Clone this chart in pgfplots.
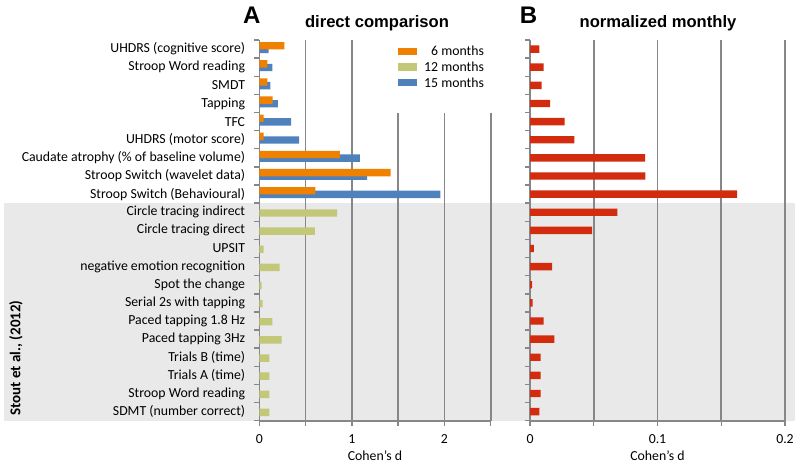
\documentclass[border=0pt]{standalone}
\usepackage{fontspec}
\setmainfont{Carlito}
\newfontfamily\arialfont{Liberation Sans}
\usepackage{pgfplots}
\usepackage{pgfplotstable}
\pgfplotsset{compat=1.18}
\definecolor{cOrange}{RGB}{240,128,0}
\definecolor{cBlue}{RGB}{79,129,189}
\definecolor{cGreen}{RGB}{195,200,120}
\definecolor{cRed}{RGB}{210,43,14}
\definecolor{cBg}{RGB}{233,233,233}
\definecolor{cAxis}{RGB}{135,135,135}
\newcommand{\lf}{\fontsize{13.8}{15}\selectfont}

% panel A: 6 months
\pgfplotstableread{
y v
0 0.27
1 0.086
2 0.086
3 0.144
4 0.047
5 0.047
6 0.87
7 1.42
8 0.605
}\orangeA
% panel A: 15 months
\pgfplotstableread{
y v
0 0.10
1 0.14
2 0.12
3 0.20
4 0.345
5 0.43
6 1.087
7 1.166
8 1.955
}\blueA
% panel A: 12 months
\pgfplotstableread{
y v
9 0.84
10 0.60
11 0.047
12 0.22
13 0.025
14 0.036
15 0.14
16 0.24
17 0.108
18 0.108
19 0.108
20 0.108
}\greenA
% panel B: normalized monthly
\pgfplotstableread{
y v
0 0.0073
1 0.0107
2 0.0092
3 0.0157
4 0.0272
5 0.0348
6 0.0903
7 0.0905
8 0.1625
9 0.0686
10 0.0487
11 0.0031
12 0.0173
13 0.0016
14 0.0021
15 0.0107
16 0.0191
17 0.0084
18 0.0084
19 0.0084
20 0.0073
}\redB

\pgfplotsset{
  swatch/.style={legend image code/.code={\fill[##1] (0pt,-3.7pt) rectangle (19pt,3.7pt);}},
  panel/.style={
    scale only axis, height=380.7pt, anchor=south west,
    y dir=reverse, ymin=-0.5, ymax=20.5,
    axis x line*=bottom, axis y line*=left,
    axis line style={cAxis, line width=1.6pt},
    tick style={cAxis, line width=1.4pt},
    major tick length=5pt, tick align=outside,
    ytick={-0.5,0.5,...,20.5}, yticklabels={},
    xmajorgrids, grid style={cAxis, line width=1.6pt},
    xbar, bar width=7.4pt,
    tick label style={font=\lf},
    xticklabel style={anchor=base, inner sep=0pt, yshift=-18pt},
    xlabel style={at={(axis description cs:0.5,0)}, anchor=base, inner sep=0pt, yshift=-39.5pt, font=\lf},
    clip=false,
  }
}

\begin{document}
\begin{tikzpicture}
\path[use as bounding box] (0pt,0pt) rectangle (798pt,-468pt);
\fill[cBg] (4pt,-202.5pt) rectangle (795pt,-420.7pt);

\node[anchor=base, font=\arialfont\bfseries\fontsize{24}{24}\selectfont] at (251.7pt,-24pt) {A};
\node[anchor=base, font=\arialfont\bfseries\fontsize{16.6}{18}\selectfont] at (377pt,-27.3pt) {direct comparison};
\node[anchor=base, font=\arialfont\bfseries\fontsize{24}{24}\selectfont] at (528.5pt,-24pt) {B};
\node[anchor=base, font=\arialfont\bfseries\fontsize{16.6}{18}\selectfont] at (658pt,-27.3pt) {normalized monthly};
\node[rotate=90, font=\bfseries\fontsize{15}{17}\selectfont] at (16pt,-358pt) {Stout et al., (2012)};

\begin{axis}[panel, at={(259.3pt,-420.7pt)}, width=231.4pt,
  xmin=0, xmax=2.5, xtick={0,0.5,...,2.5}, xticklabels={0,,1,,2,},
  xlabel={Cohen’s d},
  extra y ticks={0,...,20},
  extra y tick labels={UHDRS (cognitive score),Stroop Word reading,SMDT,Tapping,TFC,UHDRS (motor score),Caudate atrophy (\% of baseline volume),Stroop Switch (wavelet data),Stroop Switch (Behavioural),Circle tracing indirect,Circle tracing direct,UPSIT,negative emotion recognition,Spot the change,Serial 2s with tapping,Paced tapping 1.8 Hz,Paced tapping 3Hz,Trials B (time),Trials A (time),Stroop Word reading,SDMT (number correct)},
  extra y tick style={tick style={draw=none}, yticklabel style={anchor=east, inner sep=0pt, xshift=-9pt}},
  legend style={draw=none, fill=none, at={(axis description cs:0.5994,0.9835)}, anchor=north west,
    font=\lf, inner sep=0pt, row sep=6.2pt, column sep=7pt, nodes={inner sep=0pt, text height=9.5pt, text depth=0pt}},
  legend cell align=right,
]
\addplot[fill=cGreen, draw=none, bar shift=-0.8pt, forget plot] table[x=v, y=y] {\greenA};
\addplot[fill=cBlue, draw=none, bar shift=-0.3pt, forget plot] table[x=v, y=y] {\blueA};
\addplot[fill=cOrange, draw=none, bar shift=3.3pt, forget plot] table[x=v, y=y] {\orangeA};
\fill[white] (axis cs:1.196,-0.75) rectangle (axis cs:2.53,3.53);
\addlegendimage{fill=cOrange, draw=none, swatch}
\addlegendentry{6 months}
\addlegendimage{fill=cGreen, draw=none, swatch}
\addlegendentry{12 months}
\addlegendimage{fill=cBlue, draw=none, swatch}
\addlegendentry{15 months}
\end{axis}

\begin{axis}[panel, at={(530pt,-420.7pt)}, width=255pt,
  xmin=0, xmax=0.2, xtick={0,0.05,0.1,0.15,0.2}, xticklabels={0,,0.1,,0.2},
  xlabel={Cohen’s d},
]
\addplot[fill=cRed, draw=none, bar shift=0pt] table[x=v, y=y] {\redB};
\end{axis}
\end{tikzpicture}
\end{document}
